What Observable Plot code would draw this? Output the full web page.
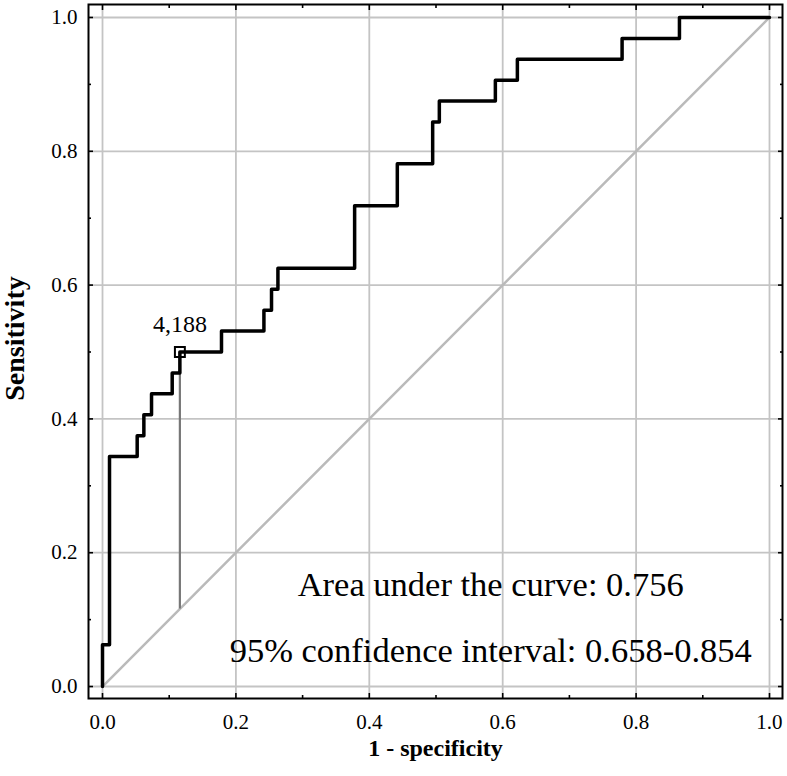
<!DOCTYPE html>
<html>
<head>
<meta charset="utf-8">
<script src="https://cdn.jsdelivr.net/npm/d3@7"></script>
<script src="https://cdn.jsdelivr.net/npm/@observablehq/plot@0.6"></script>
<style>
  html, body { margin: 0; padding: 0; background: #fff; }
  #chart svg { display: block; }
</style>
</head>
<body>
<div id="chart"></div>
<script>
// ROC operating points (1 - specificity, sensitivity)
const fpr = [0, 0, 0.0105, 0.052, 0.062, 0.0735, 0.1045, 0.116, 0.1784, 0.242, 0.2534, 0.263, 0.378, 0.442, 0.495, 0.505, 0.589, 0.622, 0.779, 0.865, 1.0];
const tpr = [0, 0.0625, 0.34375, 0.375, 0.40625, 0.4375, 0.46875, 0.5, 0.53125, 0.5625, 0.59375, 0.625, 0.71875, 0.78125, 0.84375, 0.875, 0.90625, 0.9375, 0.96875, 1.0, 1.0];
// reference (chance) line
const refX = [0, 1];
const refY = [0, 1];
// optimal cut-off
const cutX = [0.116];
const cutY = [0.5];
const cutLabel = ["4,188"];
// tick values
const majorTicks = [0, 0.2, 0.4, 0.6, 0.8, 1.0];
const minorTicks = [0.1, 0.3, 0.5, 0.7, 0.9];
const xLabel = "1 - specificity";
const yLabel = "Sensitivity";
const aucText = ["Area under the curve: 0.756", "95% confidence interval: 0.658-0.854"];

const roc = fpr.map((x, i) => ({x, y: tpr[i]}));
const ref = refX.map((x, i) => ({x, y: refY[i]}));
const cut = cutX.map((x, i) => ({x, y: cutY[i], label: cutLabel[i]}));

const serif = "Liberation Serif, Times New Roman, serif";
const fmt = d3.format(".1f");
const tickStyle = {tickFormat: () => "", stroke: "#000", strokeWidth: 1.6, label: null};

const chart = Plot.plot({
  width: 787,
  height: 776,
  marginLeft: 88,
  marginRight: 5,
  marginTop: 4,
  marginBottom: 78,
  style: {background: "#fff", fontFamily: serif},
  x: {domain: [-0.021, 1.0195], axis: null},
  y: {domain: [-0.0179, 1.0194], axis: null},
  marks: [
    Plot.gridX(majorTicks, {stroke: "#c4c4c4", strokeOpacity: 1, strokeWidth: 1.8}),
    Plot.gridY(majorTicks, {stroke: "#c4c4c4", strokeOpacity: 1, strokeWidth: 1.8}),
    Plot.line(ref, {x: "x", y: "y", stroke: "#bababa", strokeWidth: 2.5}),
    Plot.ruleX(cut, {x: "x", y1: "x", y2: "y", stroke: "#777", strokeWidth: 2.2}),
    Plot.line(roc, {x: "x", y: "y", curve: "step-after", stroke: "#000", strokeWidth: 3.5}),
    Plot.dot(cut, {x: "x", y: "y", symbol: "square", r: 5.6, stroke: "#000", strokeWidth: 2, fill: "none"}),
    Plot.text(cut, {x: "x", y: "y", text: "label", dy: -28, fontSize: 24, fill: "#000", fontFamily: serif}),
    Plot.text([aucText[0]], {x: 0.582, y: 0.1525, text: d => d, fontSize: 34.5, fill: "#000", fontFamily: serif}),
    Plot.text([aucText[1]], {x: 0.582, y: 0.0528, text: d => d, fontSize: 34.5, fill: "#000", fontFamily: serif}),
    // inward frame ticks
    Plot.axisX(majorTicks, {anchor: "bottom", tickSize: -5, ...tickStyle}),
    Plot.axisX(minorTicks, {anchor: "bottom", tickSize: -3, ...tickStyle}),
    Plot.axisX(majorTicks, {anchor: "top", tickSize: -5, ...tickStyle}),
    Plot.axisX(minorTicks, {anchor: "top", tickSize: -3, ...tickStyle}),
    Plot.axisY(majorTicks, {anchor: "left", tickSize: -5, ...tickStyle}),
    Plot.axisY(minorTicks, {anchor: "left", tickSize: -3, ...tickStyle}),
    Plot.axisY(majorTicks, {anchor: "right", tickSize: -5, ...tickStyle}),
    Plot.axisY(minorTicks, {anchor: "right", tickSize: -3, ...tickStyle}),
    // tick labels
    Plot.axisX(majorTicks, {anchor: "bottom", tickSize: 0, tickPadding: 16, tickFormat: fmt, fontSize: 21, fill: "#000", label: null}),
    Plot.axisY(majorTicks, {anchor: "left", tickSize: 0, tickPadding: 11, tickFormat: fmt, fontSize: 21, fill: "#000", label: null}),
    // axis titles
    Plot.text([xLabel], {frameAnchor: "bottom", text: d => d, dy: 57, fontSize: 24, fontWeight: "bold", fill: "#000", fontFamily: serif}),
    Plot.text([yLabel], {frameAnchor: "left", textAnchor: "middle", text: d => d, dx: -73, dy: -13, rotate: -90, fontSize: 28, fontWeight: "bold", fill: "#000", fontFamily: serif}),
    Plot.frame({stroke: "#000", strokeWidth: 2})
  ]
});
document.getElementById("chart").append(chart);
</script>
</body>
</html>
